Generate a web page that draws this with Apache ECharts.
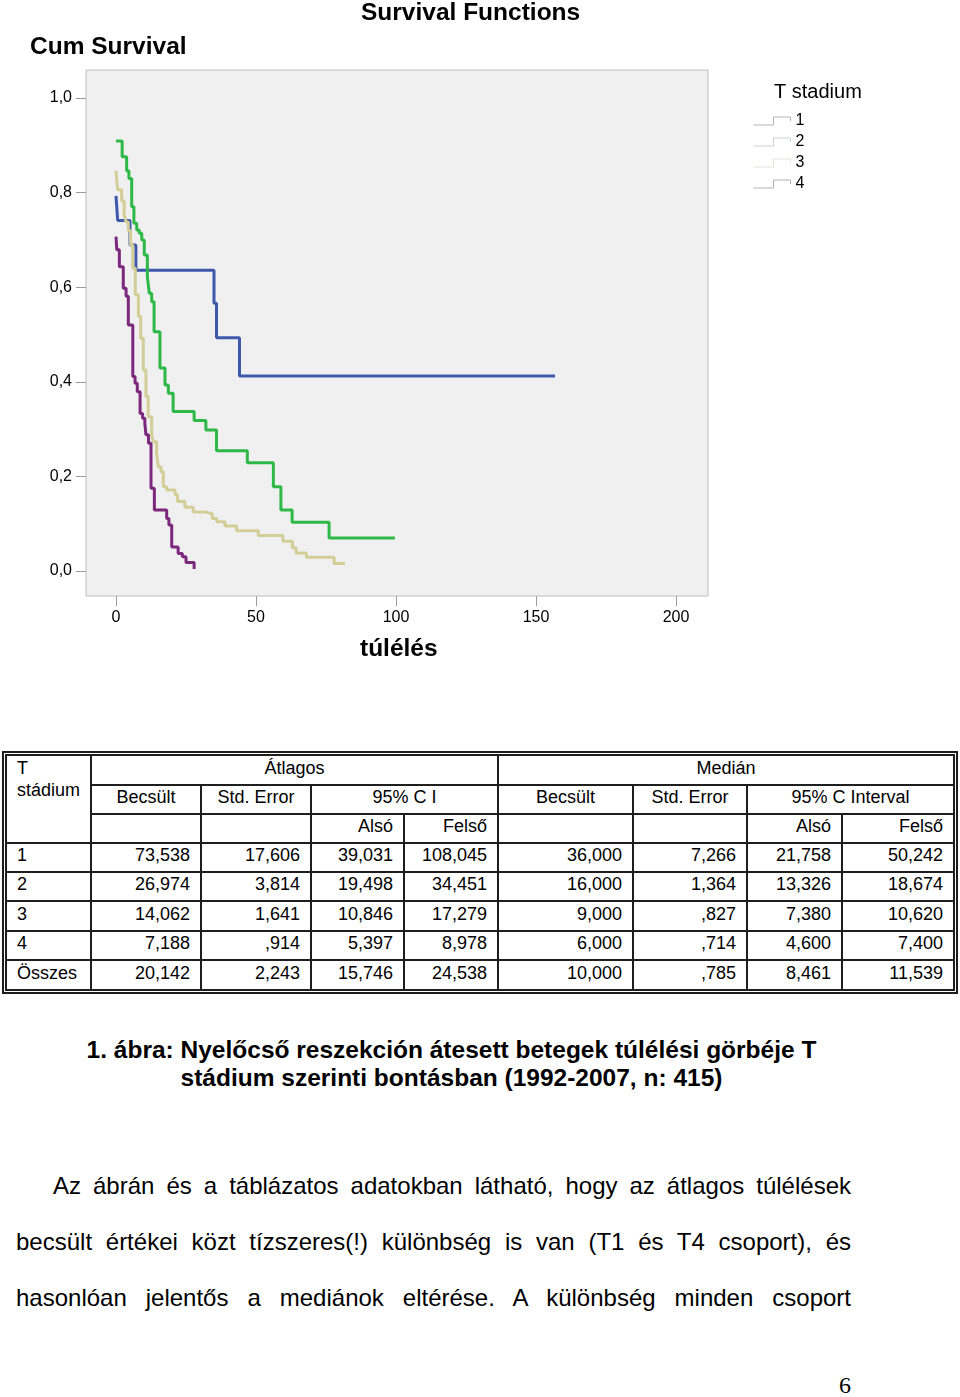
<!DOCTYPE html>
<html>
<head>
<meta charset="utf-8">
<script src="https://cdn.jsdelivr.net/npm/echarts@6/dist/echarts.min.js"></script>
<style>
html,body{margin:0;padding:0;background:#fff;}
body{width:960px;height:1397px;position:relative;overflow:hidden;font-family:'Liberation Sans',Arial,sans-serif;color:#000;}
#chart{position:absolute;left:0;top:0;width:960px;height:680px;}
.cell{position:absolute;box-sizing:border-box;border:2px solid #1e1e1e;font-size:18px;display:flex;align-items:center;white-space:nowrap;padding-bottom:4px;}
.outer{position:absolute;left:2px;top:751px;width:956px;height:243px;box-sizing:border-box;border:2px solid #1e1e1e;}
.txt{position:absolute;white-space:nowrap;font-size:24px;line-height:28px;}
.cap{font-weight:bold;font-size:24.5px;text-align:center;left:0;width:903px;}
.just{text-align:justify;text-align-last:justify;}
</style>
</head>
<body>
<div id="chart"></div>
<div id="table"></div>
<div id="texts"></div>
<script>
// ---------- Survival curves (time in túlélés units, cumulative survival) ----------
const stage1Time = [0, 0.6, 5.0, 7.1, 35.0, 35.9, 44.1, 156.8];
const stage1Surv = [0.793, 0.741, 0.689, 0.636, 0.566, 0.493, 0.412, 0.412];

const stage2Time = [0, 2.2, 3.8, 4.6, 5.6, 6.4, 7.4, 8.3, 9.2, 10.1, 11.2, 11.9, 12.75, 13.6, 15.7, 17.5, 18.7, 20.4, 27.9, 32.1, 35.9, 46.9, 56.2, 58.9, 62.9, 76.1, 99.6];
const stage2Surv = [0.909, 0.876, 0.846, 0.830, 0.770, 0.735, 0.721, 0.714, 0.700, 0.668, 0.622, 0.587, 0.569, 0.506, 0.429, 0.393, 0.376, 0.337, 0.318, 0.298, 0.254, 0.229, 0.178, 0.129, 0.103, 0.070, 0.070];

const stage3Time = [0, 0.6, 2.0, 2.9, 3.6, 4.4, 5.2, 6.0, 6.9, 8.0, 8.8, 9.75, 10.7, 11.5, 12.75, 13.3, 14.5, 15.1, 16.1, 16.9, 18.1, 21.1, 22.0, 24.6, 27.6, 31.8, 34.4, 36.0, 38.9, 43.1, 50.8, 59.6, 63.0, 64.3, 68.0, 77.9, 81.8];
const stage3Surv = [0.846, 0.806, 0.782, 0.754, 0.738, 0.720, 0.689, 0.640, 0.584, 0.538, 0.492, 0.425, 0.369, 0.326, 0.287, 0.273, 0.249, 0.220, 0.210, 0.178, 0.171, 0.161, 0.147, 0.135, 0.125, 0.121, 0.111, 0.104, 0.095, 0.085, 0.075, 0.063, 0.049, 0.038, 0.029, 0.016, 0.016];

const stage4Time = [0, 0.3, 1.2, 2.6, 3.6, 4.4, 6.0, 6.8, 7.6, 8.6, 9.5, 10.3, 10.7, 11.6, 12.5, 13.7, 18.1, 18.9, 19.9, 22.2, 23.7, 25.0, 27.9];
const stage4Surv = [0.707, 0.679, 0.643, 0.598, 0.581, 0.520, 0.411, 0.397, 0.379, 0.333, 0.323, 0.312, 0.288, 0.270, 0.175, 0.129, 0.111, 0.097, 0.051, 0.037, 0.030, 0.018, 0.004];

const seriesNames = ['1', '2', '3', '4'];
const xTickValues = [0, 50, 100, 150, 200];
const yTickValues = [0, 0.2, 0.4, 0.6, 0.8, 1.0];

// ---------- Table ----------
const tableRowLabels = ['1', '2', '3', '4', 'Összes'];
const meanEstimate = ['73,538', '26,974', '14,062', '7,188', '20,142'];
const meanStdError = ['17,606', '3,814', '1,641', ',914', '2,243'];
const meanLower = ['39,031', '19,498', '10,846', '5,397', '15,746'];
const meanUpper = ['108,045', '34,451', '17,279', '8,978', '24,538'];
const medianEstimate = ['36,000', '16,000', '9,000', '6,000', '10,000'];
const medianStdError = ['7,266', '1,364', ',827', ',714', ',785'];
const medianLower = ['21,758', '13,326', '7,380', '4,600', '8,461'];
const medianUpper = ['50,242', '18,674', '10,620', '7,400', '11,539'];

// ---------- Texts ----------
const captionLines = [
  '1. ábra: Nyelőcső reszekción átesett betegek túlélési görbéje T',
  'stádium szerinti bontásban (1992-2007, n: 415)'
];
const paragraphLines = [
  'Az ábrán és a táblázatos adatokban látható, hogy az átlagos túlélések',
  'becsült értékei közt tízszeres(!) különbség is van (T1 és T4 csoport), és',
  'hasonlóan jelentős a mediánok eltérése. A különbség minden csoport'
];
const pageNumber = '6';

// ================= Chart =================
const FONT = "'Liberation Sans', Arial, sans-serif";
const colors = ['#3e58ac', '#2eb848', '#d3ce97', '#7c287d'];
const legendIconColors = ['#b4b4b8', '#c6d8c6', '#e4e2d6', '#b8aeb8'];
const pairs = (t, s) => t.map((v, i) => [v, s[i]]);
const curves = [pairs(stage1Time, stage1Surv), pairs(stage2Time, stage2Surv), pairs(stage3Time, stage3Surv), pairs(stage4Time, stage4Surv)];

// plot frame: 622 x 526 px; 2.8 px per unit of time, 473 px per unit of survival
const GRID = {left: 86, top: 70, width: 622, height: 526};
const X_MIN = -30 / 2.8, X_MAX = X_MIN + GRID.width / 2.8;
const Y_MIN = -25 / 473, Y_MAX = Y_MIN + GRID.height / 473;

const titleStyle = {fontSize: 24.5, fontWeight: 'bold', color: '#000', fontFamily: FONT};
const chart = echarts.init(document.getElementById('chart'), null, {renderer: 'canvas'});
chart.setOption({
  animation: false,
  backgroundColor: '#ffffff',
  textStyle: {fontFamily: FONT},
  title: [
    {text: 'Survival Functions', left: 361, top: 1, padding: 0, textStyle: titleStyle},
    {text: 'Cum Survival', left: 30, top: 35, padding: 0, textStyle: titleStyle},
    {text: 'túlélés', left: 360, top: 637, padding: 0, textStyle: titleStyle},
    {text: 'T stadium', left: 774, top: 82, padding: 0, textStyle: {fontSize: 20, fontWeight: 'normal', color: '#000', fontFamily: FONT}}
  ],
  legend: {
    orient: 'vertical', left: 753, top: 113, padding: 0,
    icon: 'path://M0,8L20,8L20,0L37,0L37,4',
    itemWidth: 37, itemHeight: 8, itemGap: 5, itemTextGap: 6,
    selectedMode: false,
    textStyle: {fontSize: 16, color: '#000', fontFamily: FONT},
    data: seriesNames.map((n, i) => ({name: n, itemStyle: {color: 'transparent', borderColor: legendIconColors[i], borderWidth: 1}}))
  },
  grid: {left: GRID.left, top: GRID.top, width: GRID.width, height: GRID.height, show: true,
         backgroundColor: '#f0f0f0', borderColor: '#bdbdbd', borderWidth: 1},
  xAxis: {type: 'value', min: X_MIN, max: X_MAX, position: 'bottom',
    axisLine: {show: false, onZero: false}, splitLine: {show: false},
    axisTick: {show: true, inside: false, length: 10, customValues: xTickValues, lineStyle: {color: '#9a9a9a', width: 1}},
    axisLabel: {margin: 14, fontSize: 16, color: '#000', fontFamily: FONT, customValues: xTickValues}},
  yAxis: {type: 'value', min: Y_MIN, max: Y_MAX, position: 'left',
    axisLine: {show: false, onZero: false}, splitLine: {show: false},
    axisTick: {show: true, inside: false, length: 10, customValues: yTickValues, lineStyle: {color: '#9a9a9a', width: 1}},
    axisLabel: {margin: 14, fontSize: 16, color: '#000', fontFamily: FONT, customValues: yTickValues, padding: [3, 0, 0, 0],
                formatter: v => v.toFixed(1).replace('.', ',')}},
  series: curves.map((d, i) => ({
    name: seriesNames[i], type: 'line',
    step: 'end', data: d, symbol: 'none', showSymbol: false, clip: false,
    color: colors[i], lineStyle: {width: 3, color: colors[i]}, emphasis: {disabled: true}
  }))
});

// ================= Table =================
const X = [6, 91, 201, 311, 404, 498, 633, 747, 842, 954];
const Y = [755, 785, 814, 843, 872, 901, 931, 960, 990];
const tableEl = document.getElementById('table');
const outer = document.createElement('div');
outer.className = 'outer';
tableEl.appendChild(outer);
function cell(r0, r1, c0, c1, text, align, extra) {
  const d = document.createElement('div');
  d.className = 'cell';
  d.style.left = (X[c0] - 1) + 'px';
  d.style.top = (Y[r0] - 1) + 'px';
  d.style.width = (X[c1] - X[c0] + 2) + 'px';
  d.style.height = (Y[r1] - Y[r0] + 2) + 'px';
  d.style.justifyContent = align === 'left' ? 'flex-start' : align === 'center' ? 'center' : 'flex-end';
  if (align === 'left') d.style.paddingLeft = '10px';
  if (align === 'right') d.style.paddingRight = '10px';
  if (extra) extra(d);
  d.innerHTML = text;
  tableEl.appendChild(d);
}
cell(0, 3, 0, 1, 'T<br>stádium', 'left', d => {d.style.alignItems = 'flex-start'; d.style.lineHeight = '22px'; d.style.paddingTop = '1px';});
cell(0, 1, 1, 5, 'Átlagos', 'center');
cell(0, 1, 5, 9, 'Medián', 'center');
cell(1, 2, 1, 2, 'Becsült', 'center');
cell(1, 2, 2, 3, 'Std. Error', 'center');
cell(1, 2, 3, 5, '95% C I', 'center');
cell(1, 2, 5, 6, 'Becsült', 'center');
cell(1, 2, 6, 7, 'Std. Error', 'center');
cell(1, 2, 7, 9, '95% C Interval', 'center');
cell(2, 3, 1, 2, '', 'right');
cell(2, 3, 2, 3, '', 'right');
cell(2, 3, 3, 4, 'Alsó', 'right');
cell(2, 3, 4, 5, 'Felső', 'right');
cell(2, 3, 5, 6, '', 'right');
cell(2, 3, 6, 7, '', 'right');
cell(2, 3, 7, 8, 'Alsó', 'right');
cell(2, 3, 8, 9, 'Felső', 'right');
const cols = [meanEstimate, meanStdError, meanLower, meanUpper, medianEstimate, medianStdError, medianLower, medianUpper];
tableRowLabels.forEach((lab, r) => {
  cell(3 + r, 4 + r, 0, 1, lab, 'left');
  cols.forEach((col, c) => cell(3 + r, 4 + r, 1 + c, 2 + c, col[r], 'right'));
});

// ================= Caption & paragraph =================
const texts = document.getElementById('texts');
function addText(txt, cls, left, top, width) {
  const d = document.createElement('div');
  d.className = 'txt ' + cls;
  d.textContent = txt;
  d.style.top = top + 'px';
  if (left !== null) d.style.left = left + 'px';
  if (width) d.style.width = width + 'px';
  texts.appendChild(d);
  return d;
}
addText(captionLines[0], 'cap', null, 1036);
addText(captionLines[1], 'cap', null, 1064);
addText(paragraphLines[0], 'just', 53, 1172, 798);
addText(paragraphLines[1], 'just', 16, 1228, 835);
addText(paragraphLines[2], 'just', 16, 1284, 835);
const pn = addText(pageNumber, '', 800, 1371, 51);
pn.style.textAlign = 'right';
pn.style.fontFamily = "'Liberation Serif', 'Times New Roman', serif";
</script>
</body>
</html>
